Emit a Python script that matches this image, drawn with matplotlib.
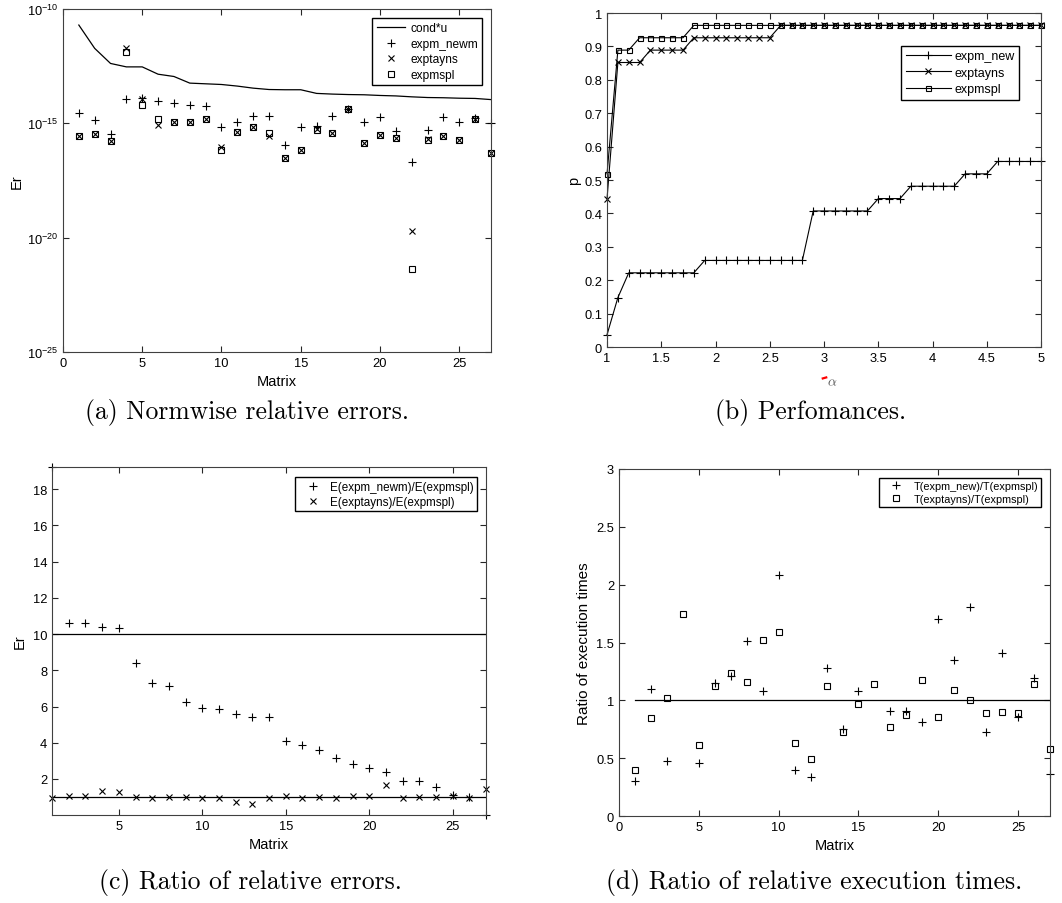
import numpy as np
import matplotlib
matplotlib.use('Agg')
import matplotlib.pyplot as plt

plt.rcParams['font.family'] = ['Liberation Sans', 'DejaVu Sans']
plt.rcParams['font.size'] = 10
plt.rcParams['mathtext.fontset'] = 'cm'

# indices das matrizes de teste
matrix = np.arange(1, 28)

# (a) erros relativos (expoentes em base 10)
log_cond_u = [-10.70, -11.72, -12.38, -12.53, -12.53, -12.85, -12.95, -13.24, -13.27,
              -13.30, -13.37, -13.46, -13.52, -13.53, -13.53, -13.69, -13.72, -13.74,
              -13.75, -13.78, -13.80, -13.84, -13.87, -13.88, -13.90, -13.91, -13.96]
log_expm_newm = [-14.54, -14.86, -15.47, -13.94, -13.88, -14.04, -14.09, -14.18, -14.22,
                 -15.17, -14.92, -14.66, -14.69, -15.94, -15.17, -15.11, -14.66, -14.39,
                 -14.92, -14.73, -15.33, -16.67, -15.30, -14.70, -14.92, -14.77, -15.00]
log_exptayns = [-15.55, -15.46, -15.75, -11.72, -13.94, -15.05, -14.96, -14.93, -14.82,
                -16.04, -15.37, -15.17, -15.55, -16.51, -16.18, -15.23, -15.42, -14.39,
                -15.85, -15.50, -15.64, -19.71, -15.69, -15.55, -15.72, -14.79, -16.29]
log_expmspl = [-15.55, -15.46, -15.75, -11.90, -14.20, -14.79, -14.96, -14.93, -14.82,
               -16.18, -15.37, -15.17, -15.43, -16.51, -16.18, -15.31, -15.42, -14.39,
               -15.85, -15.50, -15.64, -21.37, -15.72, -15.55, -15.72, -14.82, -16.29]

# (b) perfis de desempenho (numero de matrizes, de 27)
alpha = np.round(np.arange(1.0, 5.01, 0.1), 1)
p_expm_new = [1, 4] + [6] * 7 + [7] * 10 + [11] * 6 + [12] * 3 + [13] * 5 + [14] * 3 + [15] * 5
p_exptayns = [12] + [23] * 3 + [24] * 4 + [25] * 8 + [26] * 25
p_expmspl = [14] + [24] * 2 + [25] * 5 + [26] * 33

# (c) razao dos erros relativos
ratio_err_new = [19.22, 10.60, 10.60, 10.38, 10.34, 8.42, 7.32, 7.11, 6.25, 5.92, 5.84,
                 5.58, 5.44, 5.40, 4.07, 3.89, 3.59, 3.15, 2.85, 2.58, 2.41, 1.91, 1.91,
                 1.58, 1.14, 1.01, 0.01]
ratio_err_tay = [0.97, 1.08, 1.04, 1.34, 1.30, 1.01, 0.93, 1.01, 1.01, 0.93, 0.97, 0.75,
                 0.60, 0.97, 1.04, 0.97, 1.01, 0.97, 1.04, 1.08, 1.69, 0.93, 1.01, 1.01,
                 1.04, 0.97, 1.47]

# (d) razao dos tempos de execucao
ratio_t_new = [0.30, 1.10, 0.48, np.nan, 0.46, 1.15, 1.21, 1.51, 1.08, 2.08, 0.40, 0.34,
               1.28, 0.75, 1.08, np.nan, 0.91, 0.91, 0.81, 1.70, 1.35, 1.81, 0.73, 1.41,
               0.86, 1.19, 0.36]
ratio_t_tay = [0.40, 0.85, 1.02, 1.75, 0.61, 1.12, 1.24, 1.16, 1.52, 1.59, 0.63, 0.49,
               1.12, 0.73, 0.97, 1.14, 0.77, 0.87, 1.18, 0.86, 1.09, 1.00, 0.89, 0.90,
               0.89, 1.14, 0.58]

fig = plt.figure(figsize=(10.62, 9.04), dpi=100)


def estilo(ax):
    ax.tick_params(direction='in', top=True, right=True, length=4, width=0.8,
                   colors='0.15', labelcolor='black', labelsize=9.3)
    for s in ax.spines.values():
        s.set_color('0.25')
        s.set_linewidth(0.8)


leg = dict(loc='upper right', fancybox=False, framealpha=1, edgecolor='black',
           borderaxespad=0)

# Grafico (a)
ax1 = fig.add_axes([0.0593, 0.6095, 0.403, 0.3794])
ax1.semilogy(matrix, 10.0 ** np.array(log_cond_u), 'k-', lw=0.9, label='cond*u')
ax1.semilogy(matrix, 10.0 ** np.array(log_expm_newm), 'k+', ms=5.5, mew=0.8, ls='none',
             label='expm_newm', clip_on=False)
ax1.semilogy(matrix, 10.0 ** np.array(log_exptayns), 'kx', ms=3.8, mew=0.8, ls='none',
             label='exptayns', clip_on=False)
ax1.semilogy(matrix, 10.0 ** np.array(log_expmspl), 'ks', ms=3.8, mew=0.8, mfc='none',
             ls='none', label='expmspl', clip_on=False)
ax1.set_xlim(0, 27)
ax1.set_ylim(1e-25, 1e-10)
ax1.set_yticks([1e-25, 1e-20, 1e-15, 1e-10])
ax1.yaxis.set_minor_locator(matplotlib.ticker.NullLocator())
ax1.set_xticks([0, 5, 10, 15, 20, 25])
ax1.set_xlabel('Matrix', labelpad=4, fontsize=10.5)
ax1.set_ylabel('Er', labelpad=2, fontsize=10.5)
estilo(ax1)
ax1.legend(bbox_to_anchor=(0.979, 0.974), borderpad=0.35, labelspacing=0.3,
           handlelength=2.4, handletextpad=0.4, fontsize=8.6, **leg)

# Grafico (b)
ax2 = fig.add_axes([0.5716, 0.6150, 0.4087, 0.3695])
ax2.plot(alpha, np.array(p_expm_new) / 27, 'k-', marker='+', ms=6, mew=0.8, lw=0.8,
         label='expm_new', clip_on=False)
ax2.plot(alpha, np.array(p_exptayns) / 27, 'k-', marker='x', ms=4.5, mew=0.8, lw=0.8,
         label='exptayns', clip_on=False)
ax2.plot(alpha, np.array(p_expmspl) / 27, 'k-', marker='s', ms=3.6, mew=0.8, mfc='none',
         lw=0.8, label='expmspl', clip_on=False)
ax2.set_xlim(1, 5)
ax2.set_ylim(0, 1)
ax2.set_xticks(np.arange(1, 5.01, 0.5))
ax2.set_xticklabels(['1', '1.5', '2', '2.5', '3', '3.5', '4', '4.5', '5'])
ax2.set_yticks(np.arange(0, 1.01, 0.1))
ax2.set_yticklabels(['0', '0.1', '0.2', '0.3', '0.4', '0.5', '0.6', '0.7', '0.8', '0.9', '1'])
ax2.set_xlabel(r'$\alpha$', color='0.35', fontsize=10)
ax2.xaxis.set_label_coords(0.518, -0.082)
ax2.plot([0.497, 0.505], [-0.094, -0.091], color='red', lw=1.6,
         transform=ax2.transAxes, clip_on=False)
ax2.set_ylabel('p', labelpad=2, fontsize=10.5)
estilo(ax2)
ax2.legend(bbox_to_anchor=(0.949, 0.901), borderpad=0.35, labelspacing=0.35,
           handlelength=3.6, handletextpad=0.3, fontsize=9, **leg)

# Grafico (c)
ax3 = fig.add_axes([0.049, 0.0973, 0.4087, 0.385])
ax3.plot(matrix, ratio_err_new, 'k+', ms=5.5, mew=0.8, ls='none',
         label='E(expm_newm)/E(expmspl)', clip_on=False)
ax3.plot(matrix, ratio_err_tay, 'kx', ms=4, mew=0.8, ls='none',
         label='E(exptayns)/E(expmspl)', clip_on=False)
ax3.axhline(10, color='black', lw=0.9)
ax3.axhline(1, color='black', lw=0.9)
ax3.set_xlim(1, 27)
ax3.set_ylim(min(ratio_err_new), max(ratio_err_new))
ax3.set_xticks([5, 10, 15, 20, 25])
ax3.set_yticks([2, 4, 6, 8, 10, 12, 14, 16, 18])
ax3.set_xlabel('Matrix', labelpad=4, fontsize=10.5)
ax3.set_ylabel('Er', labelpad=4, fontsize=10.5)
estilo(ax3)
ax3.legend(bbox_to_anchor=(0.98, 0.97), borderpad=0.3, labelspacing=0.25,
           handlelength=2.4, handletextpad=0.3, fontsize=8.4, **leg)

# Grafico (d)
ax4 = fig.add_axes([0.5829, 0.0962, 0.4058, 0.3839])
ax4.plot(matrix, ratio_t_new, 'k+', ms=6, mew=0.8, ls='none',
         label='T(expm_new)/T(expmspl)', clip_on=False)
ax4.plot(matrix, ratio_t_tay, 'ks', ms=4, mew=0.8, mfc='none', ls='none',
         label='T(exptayns)/T(expmspl)', clip_on=False)
ax4.plot([matrix[0], matrix[-1]], [1, 1], 'k-', lw=0.9)
ax4.set_xlim(0, 27)
ax4.set_ylim(0, 3)
ax4.set_xticks([0, 5, 10, 15, 20, 25])
ax4.set_yticks([0, 0.5, 1, 1.5, 2, 2.5, 3])
ax4.set_yticklabels(['0', '0.5', '1', '1.5', '2', '2.5', '3'])
ax4.set_xlabel('Matrix', labelpad=4, fontsize=10.5)
ax4.set_ylabel('Ratio of execution times', labelpad=4, fontsize=11)
estilo(ax4)
ax4.legend(bbox_to_anchor=(0.98, 0.974), borderpad=0.3, labelspacing=0.25,
           handlelength=2.6, handletextpad=0.3, fontsize=7.8, **leg)

# legendas das figuras
cap = dict(family='cmr10', fontsize=18.5, ha='center', va='center')
fig.text(247 / 1062, 1 - 413 / 904, '(a) Normwise relative errors.', **cap)
fig.text(811 / 1062, 1 - 413 / 904, '(b) Perfomances.', **cap)
fig.text(250 / 1062, 1 - 883 / 904, '(c) Ratio of relative errors.', **cap)
fig.text(814 / 1062, 1 - 883 / 904, '(d) Ratio of relative execution times.', **cap)

fig.savefig('out.png', dpi=100)
